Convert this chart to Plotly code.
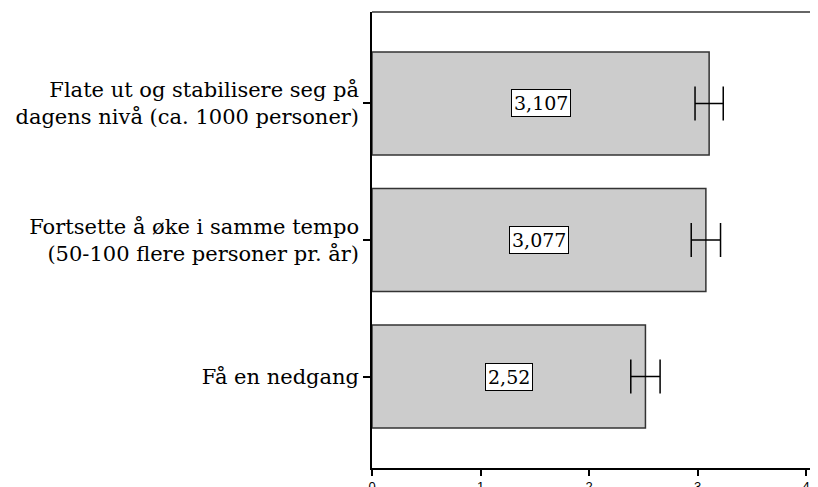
import plotly.graph_objects as go

categories = ["Få en nedgang",
              "Fortsette å øke i samme tempo<br>(50-100 flere personer pr. år)",
              "Flate ut og stabilisere seg på<br>dagens nivå (ca. 1000 personer)"]
values = [2.52, 3.077, 3.107]
errors = [0.135, 0.135, 0.13]
value_labels = ["2,52", "3,077", "3,107"]
x_ticks = [0, 1, 2, 3, 4]

fig = go.Figure()
fig.add_trace(go.Bar(
    x=values, y=categories, orientation="h",
    width=0.755,
    marker=dict(color="#cccccc", line=dict(color="#333333", width=1.5)),
    error_x=dict(type="data", array=errors, color="black", thickness=1.5, width=17),
    hoverinfo="skip",
))
for v, c, lab in zip(values, categories, value_labels):
    fig.add_annotation(x=v / 2, y=c, text=lab, showarrow=False,
                       font=dict(family="DejaVu Serif", size=19, color="black"),
                       bgcolor="white", bordercolor="black", borderwidth=1, borderpad=2)

fig.add_shape(type="line", xref="paper", yref="paper", x0=0, x1=1, y0=1, y1=1,
              line=dict(color="#333333", width=1.5))

fig.update_layout(
    width=818, height=487,
    margin=dict(l=364, r=0, t=4, b=27),
    plot_bgcolor="white", paper_bgcolor="white",
    showlegend=False,
    xaxis=dict(range=[0, 4.184], tickvals=x_ticks, ticktext=[str(t) for t in x_ticks],
               showgrid=False, zeroline=False, showline=True, linecolor="black", linewidth=1.5,
               ticks="outside", ticklen=6, tickwidth=1.5, tickcolor="black", ticklabelstandoff=0,
               tickfont=dict(family="Liberation Sans", size=13, color="black")),
    yaxis=dict(range=[-0.67, 2.67], showgrid=False, zeroline=False, showline=True,
               linecolor="black", linewidth=1.5, ticks="outside", ticklen=7, tickwidth=1.5,
               tickcolor="black", ticklabelstandoff=0,
               tickfont=dict(family="DejaVu Serif", size=21, color="black")),
)
fig.write_html("out.html")
